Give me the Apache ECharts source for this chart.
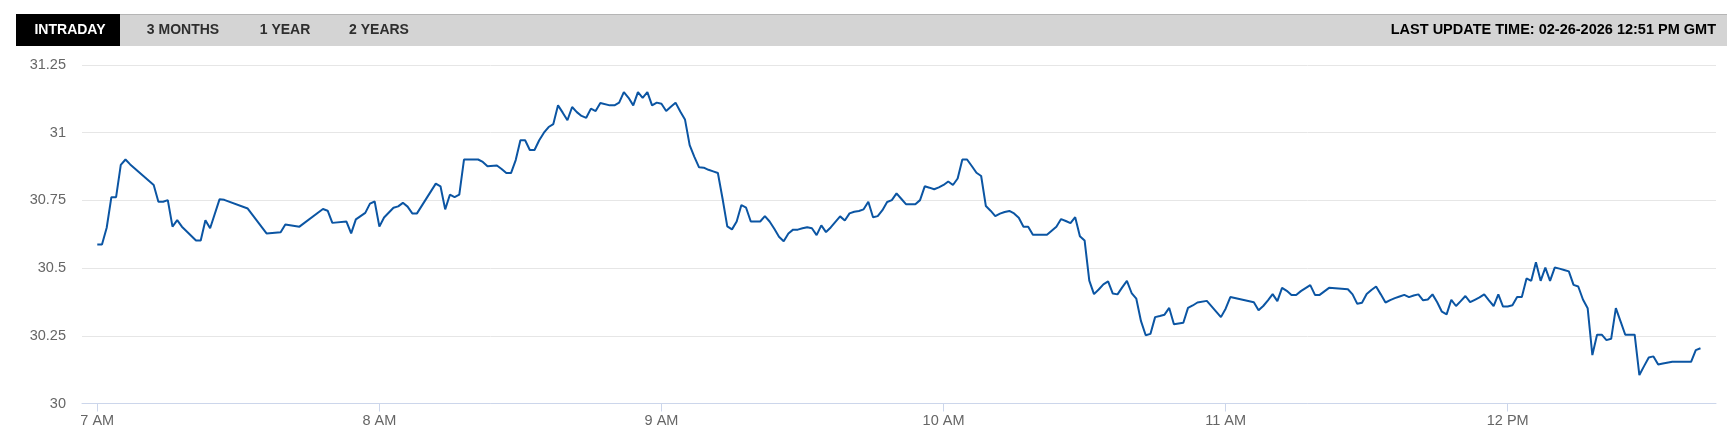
<!DOCTYPE html>
<html>
<head>
<meta charset="utf-8">
<script src="https://cdn.jsdelivr.net/npm/echarts@6/dist/echarts.min.js"></script>
<style>
html,body{margin:0;padding:0;background:#fff;}
#chart{width:1734px;height:429px;}
</style>
</head>
<body>
<div id="chart"></div>
<script>
// ---- DATA ----
const tabs = ["INTRADAY", "3 MONTHS", "1 YEAR", "2 YEARS"];
const lastUpdate = "LAST UPDATE TIME: 02-26-2026 12:51 PM GMT";
const yTicks = [30, 30.25, 30.5, 30.75, 31, 31.25];
const xTickLabels = ["7 AM", "8 AM", "9 AM", "10 AM", "11 AM", "12 PM"];
const xTickTimes = ["07:00", "08:00", "09:00", "10:00", "11:00", "12:00"];

const times = [
"07:00","07:01","07:02","07:03","07:04","07:05","07:06","07:07","07:12","07:13","07:14","07:15","07:16","07:17","07:18",
"07:21","07:22","07:23","07:24","07:26","07:27","07:32","07:36","07:39","07:40","07:43","07:48","07:49","07:50","07:53",
"07:54","07:55","07:56","07:57","07:58","07:59","08:00","08:01","08:03","08:04","08:05","08:06","08:07","08:08","08:12",
"08:13","08:14","08:15","08:16","08:17","08:18","08:19","08:20","08:21","08:22","08:23","08:25","08:26","08:27","08:28",
"08:29","08:30","08:31","08:32","08:33","08:34","08:35","08:36","08:37","08:38","08:39","08:40","08:41","08:42","08:43",
"08:44","08:45","08:46","08:47","08:49","08:50","08:51","08:52","08:53","08:54","08:55","08:56","08:57","08:58","08:59",
"09:00","09:01","09:02","09:03","09:04","09:05","09:06","09:07","09:08","09:09","09:10","09:11","09:12","09:13","09:14",
"09:15","09:16","09:17","09:18","09:19","09:20","09:21","09:22","09:23","09:24","09:25","09:26","09:27","09:28","09:29",
"09:30","09:31","09:32","09:33","09:34","09:35","09:36","09:37","09:38","09:39","09:40","09:41","09:42","09:43","09:44",
"09:45","09:46","09:47","09:48","09:49","09:50","09:51","09:52","09:53","09:54","09:55","09:56","09:57","09:58","09:59",
"10:00","10:01","10:02","10:03","10:04","10:05","10:06","10:07","10:08","10:09","10:10","10:11","10:12","10:13","10:14",
"10:15","10:16","10:17","10:18","10:19","10:20","10:21","10:22","10:23","10:24","10:25","10:26","10:27","10:28","10:29",
"10:30","10:31","10:32","10:33","10:34","10:35","10:36","10:37","10:38","10:39","10:40","10:41","10:42","10:43","10:44",
"10:45","10:46","10:47","10:48","10:49","10:51","10:52","10:53","10:54","10:56","10:59","11:00","11:01","11:06","11:07",
"11:08","11:09","11:10","11:11","11:12","11:13","11:14","11:15","11:16","11:17","11:18","11:19","11:20","11:21","11:22",
"11:26","11:27","11:28","11:29","11:30","11:31","11:32","11:33","11:34","11:35","11:36","11:37","11:38","11:39","11:40",
"11:41","11:42","11:43","11:44","11:45","11:46","11:47","11:48","11:49","11:50","11:51","11:52","11:53","11:54","11:55",
"11:56","11:57","11:58","11:59","12:00","12:01","12:02","12:03","12:04","12:05","12:06","12:07","12:08","12:09","12:10",
"12:11","12:12","12:13","12:14","12:15","12:16","12:17","12:18","12:19","12:20","12:21","12:22","12:23","12:24","12:25",
"12:26","12:27","12:28","12:29","12:30","12:31","12:32","12:33","12:35","12:39","12:40","12:41"
];
const prices = [
30.587,30.587,30.649,30.762,30.762,30.881,30.901,30.883,30.807,30.745,30.745,30.751,30.653,30.677,30.653,
30.602,30.602,30.677,30.647,30.754,30.752,30.720,30.628,30.632,30.661,30.653,30.718,30.712,30.667,30.672,
30.628,30.680,30.692,30.704,30.738,30.746,30.653,30.687,30.723,30.728,30.741,30.727,30.702,30.702,30.812,
30.802,30.717,30.771,30.762,30.771,30.901,30.901,30.901,30.901,30.892,30.876,30.879,30.866,30.851,30.851,
30.899,30.972,30.972,30.936,30.936,30.972,31.000,31.021,31.032,31.101,31.074,31.046,31.095,31.076,31.062,
31.055,31.089,31.080,31.110,31.101,31.101,31.111,31.150,31.129,31.101,31.150,31.129,31.150,31.101,31.111,
31.107,31.080,31.096,31.111,31.078,31.049,30.954,30.911,30.872,30.871,30.863,30.857,30.851,30.756,30.654,
30.643,30.672,30.733,30.723,30.672,30.672,30.672,30.692,30.672,30.645,30.616,30.599,30.628,30.642,30.642,
30.647,30.651,30.647,30.622,30.658,30.633,30.650,30.671,30.691,30.676,30.702,30.708,30.711,30.717,30.745,
30.688,30.692,30.714,30.744,30.751,30.776,30.756,30.736,30.736,30.736,30.751,30.802,30.797,30.791,30.798,
30.807,30.820,30.807,30.831,30.901,30.901,30.877,30.852,30.840,30.729,30.712,30.692,30.701,30.707,30.711,
30.702,30.686,30.653,30.653,30.623,30.623,30.623,30.623,30.638,30.653,30.681,30.674,30.666,30.688,30.618,
30.602,30.454,30.404,30.421,30.440,30.451,30.406,30.403,30.429,30.453,30.408,30.387,30.304,30.252,30.257,
30.319,30.323,30.328,30.353,30.293,30.298,30.353,30.362,30.373,30.379,30.319,30.350,30.393,30.374,30.344,
30.360,30.381,30.404,30.378,30.427,30.416,30.401,30.401,30.415,30.426,30.437,30.401,30.401,30.414,30.427,
30.422,30.403,30.368,30.372,30.404,30.419,30.432,30.403,30.373,30.382,30.389,30.395,30.401,30.393,30.399,
30.403,30.381,30.384,30.403,30.374,30.339,30.329,30.383,30.360,30.378,30.397,30.374,30.383,30.392,30.403,
30.381,30.360,30.403,30.358,30.358,30.363,30.393,30.393,30.462,30.453,30.522,30.453,30.502,30.453,30.502,
30.498,30.493,30.488,30.438,30.432,30.384,30.352,30.179,30.254,30.254,30.234,30.239,30.352,30.303,30.254,
30.254,30.254,30.105,30.138,30.170,30.174,30.144,30.148,30.154,30.154,30.197,30.204
];
// ---- END DATA ----

function toMin(t){ const p=t.split(':'); return (parseInt(p[0],10)-7)*60+parseInt(p[1],10); }
const seriesData = times.map((t,i)=>[toMin(t), prices[i]]);
const tickMins = xTickTimes.map(toMin);

const chart = echarts.init(document.getElementById('chart'), null, {renderer:'canvas'});
const FONT = '"Liberation Sans", Arial, sans-serif';

const tabCenters = [70, 183, 285, 379];
const graphics = [
  {type:'rect', shape:{x:16,y:14,width:1711,height:32}, style:{fill:'#d4d4d4'}, silent:true},
  {type:'rect', shape:{x:16,y:14,width:1711,height:1}, style:{fill:'#b5b5b5'}, silent:true},
  {type:'rect', shape:{x:16,y:14,width:104,height:32}, style:{fill:'#000000'}, silent:true}
];
tabs.forEach((t,i)=>{
  graphics.push({type:'text', x:tabCenters[i], y:30, silent:true,
    style:{text:t, fill: i===0 ? '#ffffff' : '#2e2e2e', font:'bold 14px '+FONT, align:'center', verticalAlign:'middle'}});
});
graphics.push({type:'text', x:1716, y:30, silent:true,
  style:{text:lastUpdate, fill:'#000000', font:'bold 14.5px '+FONT, align:'right', verticalAlign:'middle'}});

chart.setOption({
  animation:false,
  backgroundColor:'#ffffff',
  graphic: graphics,
  grid:{left:82, right:18, top:65, bottom:25.5, containLabel:false},
  xAxis:{
    type:'value',
    min:-3.25, max:344.3,
    axisLine:{show:true, lineStyle:{color:'#ccd6eb', width:1}},
    axisTick:{show:true, customValues:tickMins, length:8, lineStyle:{color:'#ccd6eb'}},
    axisLabel:{show:true, customValues:tickMins, margin:10, color:'#666666', fontSize:14.5, fontFamily:FONT,
      formatter:(v)=>{ const i=tickMins.indexOf(Math.round(v)); return i>=0 ? xTickLabels[i] : ''; }},
    splitLine:{show:false}
  },
  yAxis:{
    type:'value',
    min:yTicks[0], max:yTicks[yTicks.length-1], interval:0.25,
    axisLine:{show:false}, axisTick:{show:false},
    axisLabel:{margin:16, color:'#666666', fontSize:14.5, fontFamily:FONT,
      formatter:(v)=>String(parseFloat(v.toFixed(2)))},
    splitLine:{show:true, lineStyle:{color:'#e6e6e6', width:1}}
  },
  series:[{
    type:'line',
    data:seriesData,
    showSymbol:false,
    symbol:'none',
    lineStyle:{color:'#0b55a3', width:2},
    itemStyle:{color:'#0b55a3'}
  }]
});
</script>
</body>
</html>
